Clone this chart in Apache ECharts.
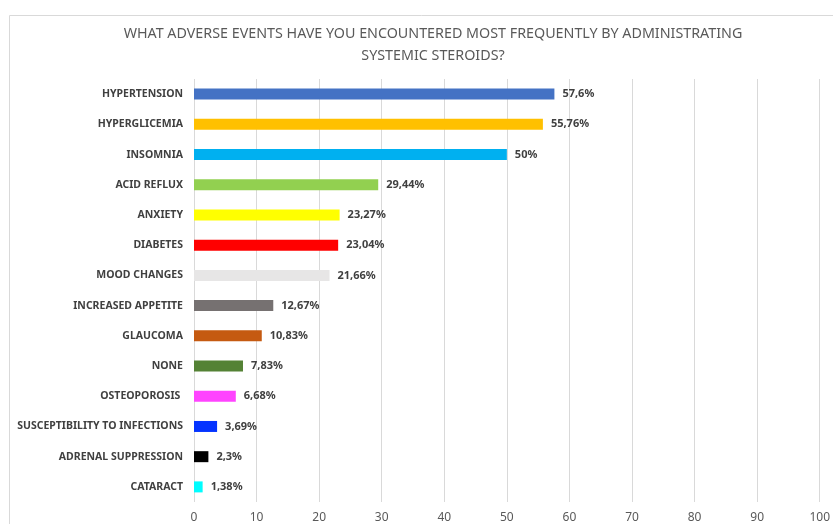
<!DOCTYPE html>
<html>
<head>
<meta charset="utf-8">
<script src="https://cdn.jsdelivr.net/npm/echarts@6/dist/echarts.min.js"></script>
<style>
  html, body { margin: 0; padding: 0; background: #fff; }
  #chart { width: 833px; height: 524px; }
</style>
</head>
<body>
<div id="chart"></div>
<script>
const categories = [
  'HYPERTENSION', 'HYPERGLICEMIA', 'INSOMNIA', 'ACID REFLUX', 'ANXIETY', 'DIABETES',
  'MOOD CHANGES', 'INCREASED APPETITE', 'GLAUCOMA', 'NONE', 'OSTEOPOROSIS ',
  'SUSCEPTIBILITY TO INFECTIONS', 'ADRENAL SUPPRESSION', 'CATARACT'
];
const values = [57.6, 55.76, 50, 29.44, 23.27, 23.04, 21.66, 12.67, 10.83, 7.83, 6.68, 3.69, 2.3, 1.38];
const barColors = [
  '#4472C4', '#FFC000', '#00B0F0', '#92D050', '#FFFF00', '#FF0000', '#E7E6E6',
  '#767171', '#C55A11', '#548235', '#FF44FF', '#0433FF', '#000000', '#00FDFF'
];
const xTicks = [0, 10, 20, 30, 40, 50, 60, 70, 80, 90, 100];

const myChart = echarts.init(document.getElementById('chart'));

const option = {
  animation: false,
  graphic: [{
    type: 'rect',
    left: 7, top: 13,
    shape: { width: 900, height: 600 },
    style: { fill: 'none', stroke: '#d9d9d9', lineWidth: 1 },
    silent: true
  }],
  title: {
    text: 'WHAT ADVERSE EVENTS HAVE YOU ENCOUNTERED MOST FREQUENTLY BY ADMINISTRATING\nSYSTEMIC STEROIDS?',
    left: 428,
    textAlign: 'center',
    top: 18,
    textStyle: {
      fontFamily: 'Noto Sans',
      fontSize: 14.3,
      fontWeight: 'normal',
      color: '#595959',
      lineHeight: 22
    }
  },
  grid: { left: 194, right: 10, top: 79, bottom: 21 },
  xAxis: {
    type: 'value',
    min: 0, max: 100, interval: 10,
    axisLine: { show: false },
    axisTick: { show: false },
    axisLabel: {
      color: '#595959',
      fontFamily: 'Noto Sans',
      fontSize: 12,
      margin: 10,
      formatter: v => xTicks.includes(v) ? String(v) : ''
    },
    splitLine: { lineStyle: { color: '#d9d9d9', width: 1 } }
  },
  yAxis: {
    type: 'category',
    inverse: true,
    data: categories,
    axisLine: { show: false },
    axisTick: { show: false },
    axisLabel: {
      color: '#404040',
      fontFamily: 'Noto Sans',
      fontWeight: 'bold',
      fontSize: 10.5,
      margin: 11
    }
  },
  series: [{
    type: 'bar',
    data: values.map((v, i) => ({ value: v, itemStyle: { color: barColors[i] } })),
    barWidth: 11,
    label: {
      show: true,
      position: 'right',
      distance: 8,
      color: '#404040',
      fontFamily: 'Noto Sans',
      fontWeight: 'bold',
      fontSize: 11,
      formatter: p => String(p.value).replace('.', ',') + '%'
    }
  }]
};

myChart.setOption(option);
</script>
</body>
</html>
